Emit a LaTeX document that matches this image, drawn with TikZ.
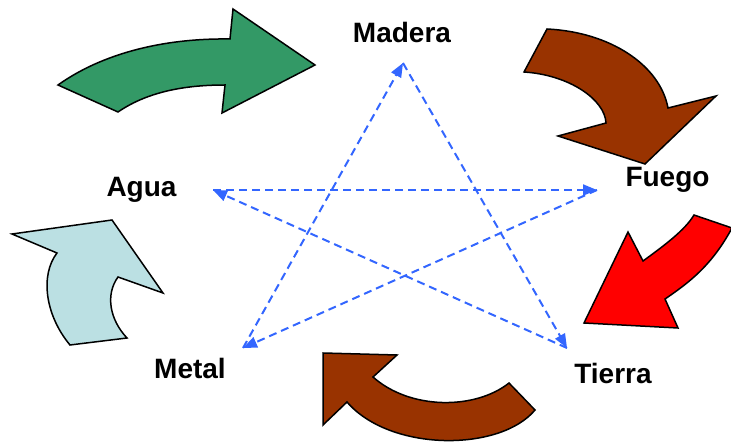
\documentclass[tikz,border=0pt]{standalone}
\usepackage{fontspec}
\setmainfont{Liberation Sans}
\usetikzlibrary{arrows.meta}
\definecolor{woodgreen}{HTML}{339966}
\definecolor{firebrown}{HTML}{993300}
\definecolor{firered}{HTML}{FF0000}
\definecolor{waterblue}{HTML}{BBE0E3}
\definecolor{starblue}{HTML}{3366FF}
\tikzset{
  cyclearrow/.style={draw=black, line width=1.5pt, line join=miter},
  label/.style={anchor=base, inner sep=0pt, font=\fontsize{28}{32}\selectfont\bfseries},
  control/.style={draw=starblue, line width=2pt, dash pattern=on 8pt off 5pt,
    -{Triangle[length=14pt,width=11pt]}},
}
\begin{document}
\begin{tikzpicture}[x=1pt,y=-1pt]
\useasboundingbox (0,0) rectangle (731,446);
\clip (0,0) rectangle (731,446);

% element labels
\node[label] (madera) at (402,43) {Madera};
\node[label] (fuego)  at (667.5,187) {Fuego};
\node[label] (tierra) at (613,383) {Tierra};
\node[label] (metal)  at (190,378) {Metal};
\node[label] (agua)   at (141.5,197) {Agua};

% points of the control star
\coordinate (sMadera) at (403,63);
\coordinate (sFuego)  at (597,190);
\coordinate (sTierra) at (567,348);
\coordinate (sMetal)  at (243,348);
\coordinate (sAgua)   at (213,190);

% generating cycle: curved block arrows
\path[cyclearrow, fill=woodgreen]
  (58,85) -- (118,112) .. controls (150,90) and (190,85) .. (225,85)
  -- (222,113) -- (315,65) -- (233,9) -- (230,39)
  .. controls (160,38) and (100,55) .. (58,85) -- cycle;

\path[cyclearrow, fill=firebrown]
  (547,29) -- (524,72) .. controls (570,75) and (605,100) .. (606,123)
  -- (558,136) -- (645,164) -- (716,96) -- (668,108)
  .. controls (660,65) and (610,32) .. (547,29) -- cycle;

\path[cyclearrow, fill=firered]
  (694,215) -- (732,228) .. controls (712,265) and (690,282) .. (665,299)
  -- (678,328) -- (584,323) -- (628,232) -- (643,261)
  .. controls (665,245) and (685,230) .. (694,215) -- cycle;

\path[cyclearrow, fill=firebrown]
  (323,353) -- (397,355) -- (373,377)
  .. controls (410,410) and (475,410) .. (509,383)
  -- (535,410) .. controls (500,452) and (390,452) .. (347,402)
  -- (323,425) -- cycle;

\path[cyclearrow, fill=waterblue]
  (12,234) -- (112,220) -- (163,293) -- (118,277)
  .. controls (105,295) and (110,320) .. (127,338)
  -- (70,345) .. controls (45,315) and (40,275) .. (57,253) -- cycle;

% controlling cycle: dashed star
\draw[control] (sMadera) -- (sTierra);
\draw[control] (sTierra) -- (sAgua);
\draw[control] (sAgua) -- (sFuego);
\draw[control] (sFuego) -- (sMetal);
\draw[control] (sMetal) -- (sMadera);
\end{tikzpicture}
\end{document}
